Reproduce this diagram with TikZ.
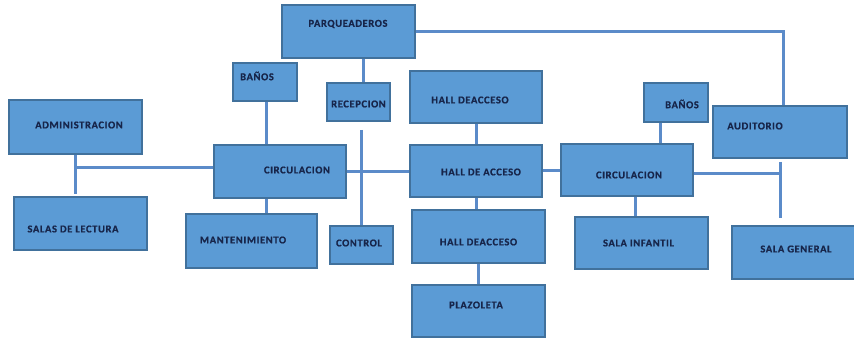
\documentclass[tikz,border=0pt]{standalone}
\usepackage{fontspec}
\newfontfamily\boxfont[LetterSpace=6,FakeBold=0.6]{Carlito}
\definecolor{boxfill}{HTML}{5B9BD5}
\definecolor{boxline}{HTML}{41719C}
\definecolor{wirecol}{HTML}{5B8BC9}
\definecolor{ink}{HTML}{17254A}
\tikzset{
  room/.style={draw=boxline, fill=boxfill, line width=1.3pt, inner sep=0pt, rectangle},
  tag/.style={font=\boxfont\bfseries\fontsize{10.5}{12}\selectfont, text=ink, inner sep=0pt},
  wire/.style={draw=wirecol, line width=3pt},
}
\begin{document}
\begin{tikzpicture}[x=1pt,y=-1pt]
\useasboundingbox (0,0) rectangle (854,339);
\coordinate (rc) at (361.5,130);
\coordinate (aj) at (75.5,168);
\coordinate (rj1) at (780,162);
\coordinate (rj2) at (780,218);
\coordinate (tp) at (783,32);
% boxes
\node[room, minimum width=133pt, minimum height=53pt, label={[tag, xshift=-0.5pt, yshift=7.5pt]center:PARQUEADEROS}] (parq) at (348.5,31.5) {};
\node[room, minimum width=64pt, minimum height=38pt, label={[tag, xshift=-8pt, yshift=6pt]center:BAÑOS}] (banosL) at (265,82) {};
\node[room, minimum width=63pt, minimum height=38pt, label={[tag, yshift=-2pt]center:RECEPCION}] (recep) at (358.5,102) {};
\node[room, minimum width=133pt, minimum height=54pt, label={[tag, xshift=3.5pt, yshift=2pt]center:ADMINISTRACION}] (admin) at (75.5,127) {};
\node[room, minimum width=132pt, minimum height=53pt, label={[tag, xshift=17pt, yshift=1.5pt]center:CIRCULACION}] (circL) at (280,171.5) {};
\node[room, minimum width=133pt, minimum height=53pt, label={[tag, xshift=-7.5pt, yshift=-5.5pt]center:SALAS DE LECTURA}] (salas) at (80.5,223.5) {};
\node[room, minimum width=131pt, minimum height=54pt, label={[tag, xshift=-8.5pt, yshift=1pt]center:MANTENIMIENTO}] (mant) at (251.5,241) {};
\node[room, minimum width=63pt, minimum height=38pt, label={[tag, xshift=-2.5pt, yshift=2pt]center:CONTROL}] (control) at (361.5,245) {};
\node[room, minimum width=132pt, minimum height=52pt, label={[tag, xshift=-6pt, yshift=-3pt]center:HALL DEACCESO}] (hallT) at (476,97) {};
\node[room, minimum width=132pt, minimum height=52pt, label={[tag, xshift=5pt, yshift=-1pt]center:HALL DE ACCESO}] (hallM) at (476,171) {};
\node[room, minimum width=133pt, minimum height=53pt, label={[tag, yshift=-5.5pt]center:HALL DEACCESO}] (hallB) at (478.5,236.5) {};
\node[room, minimum width=133pt, minimum height=52pt, label={[tag, xshift=-2.5pt, yshift=6pt]center:PLAZOLETA}] (plaz) at (478.5,311) {};
\node[room, minimum width=132pt, minimum height=52pt, label={[tag, xshift=2pt, yshift=-5pt]center:CIRCULACION}] (circR) at (627,170) {};
\node[room, minimum width=64pt, minimum height=39pt, label={[tag, xshift=6pt, yshift=-1.5pt]center:BAÑOS}] (banosR) at (676,102.5) {};
\node[room, minimum width=134pt, minimum height=52pt, label={[tag, xshift=-25pt, yshift=6pt]center:AUDITORIO}] (aud) at (780,132) {};
\node[room, minimum width=133pt, minimum height=52pt, label={[tag, xshift=-3pt]center:SALA INFANTIL}] (salaInf) at (641.5,243) {};
\node[room, minimum width=126pt, minimum height=53pt, label={[tag, xshift=1pt, yshift=3.5pt]center:SALA GENERAL}] (salaGen) at (795,252.5) {};
% connectors
\draw[wire] (parq.east |- tp) -- (tp) -- (tp |- aud.north);
\draw[wire] ([xshift=4.5pt]recep.north |- parq.south) -- ([xshift=4.5pt]recep.north);
\draw[wire] (rc) -- (control.north);
\draw[wire] (circL.east) -- (circL.east -| hallM.west);
\draw[wire] (admin.south) -- ([yshift=2pt]admin.south |- salas.north);
\draw[wire] (aj) -- (aj -| circL.west);
\draw[wire] ([xshift=1pt]banosL.south) -- ([xshift=1pt]banosL.south |- circL.north);
\draw[wire] ([xshift=1pt]banosL.south |- circL.south) -- ([xshift=1pt]banosL.south |- mant.north);
\draw[wire] (hallT.south) -- (hallM.north);
\draw[wire] (hallM.south) -- (hallM.south |- hallB.north);
\draw[wire] (hallB.south) -- (plaz.north);
\draw[wire] (hallM.east) -- (hallM.east -| circR.west);
\draw[wire] ([xshift=-16pt]banosR.south) -- ([xshift=-16pt]banosR.south |- circR.north);
\draw[wire] ([xshift=8pt]circR.south) -- ([xshift=8pt]circR.south |- salaInf.north);
\draw[wire] (rj1) -- (rj2);
\draw[wire] ([yshift=-4pt]circR.east) -- ([yshift=-4pt]circR.east -| rj1);
\end{tikzpicture}
\end{document}
